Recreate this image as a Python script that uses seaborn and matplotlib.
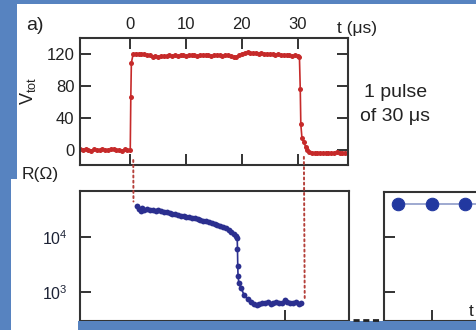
import matplotlib
matplotlib.use("Agg")
import matplotlib.pyplot as plt
import seaborn as sns
from matplotlib.patches import Rectangle, ConnectionPatch
from matplotlib.lines import Line2D

# ---------------- data ----------------
t_v = [-9.0, -8.5, -8.0, -7.5, -7.0, -6.5, -6.0, -5.5, -5.0, -4.5, -4.0, -3.5, -3.0, -2.5,
       -2.0, -1.5, -1.0, -0.5, 0.0,
       0.1, 0.2,
       0.5, 1.0, 1.5, 2.0, 2.5, 3.0, 3.5, 4.0, 4.5, 5.0, 5.5, 6.0, 6.5, 7.0, 7.5, 8.0, 8.5,
       9.0, 9.5, 10.0, 10.5, 11.0, 11.5, 12.0, 12.5, 13.0, 13.5, 14.0, 14.5, 15.0, 15.5, 16.0,
       16.5, 17.0, 17.5, 18.0, 18.5, 19.0, 19.5, 20.0, 20.5, 21.0, 21.5, 22.0, 22.5, 23.0,
       23.5, 24.0, 24.5, 25.0, 25.5, 26.0, 26.5, 27.0, 27.5, 28.0, 28.5, 29.0, 29.5, 30.0,
       30.3,
       30.45, 30.55, 30.75, 31.05, 31.4, 31.7, 32.0,
       32.5, 33.0, 33.5, 34.0, 34.5, 35.0, 35.5, 36.0, 36.5, 37.0, 37.5, 38.0, 38.5, 39.0, 39.5]
v_tot = [0.5, -0.5, 0.8, 0.0, -1.0, 0.6, 0.2, -0.4, 1.0, 0.0, -0.8, 0.4, 0.9, -0.3,
         0.2, -1.0, 0.5, 0.0, -0.5,
         66, 109,
         120, 121, 120.5, 121, 120, 119, 118.5, 117, 117.5, 116.5, 117.5, 118, 117.5, 118.5,
         118, 119, 118, 118.5, 119, 118, 118.5, 119, 118.5, 118, 119, 118.5, 118.5, 119, 118,
         118.5, 119, 118.5, 118, 118.5, 119, 118, 116.5, 116, 119, 121, 122, 122.5, 122,
         121.5, 122, 121, 121.5, 120.5, 121, 120, 120.5, 119.5, 120, 119, 119.5, 118.5, 119,
         118, 118.5, 117.5,
         117,
         76, 32, 15, 10, 4, 0, -2.5,
         -3.5, -4.5, -4, -3.5, -4.5, -4, -3.5, -4.5, -4, -3, -4, -4.5, -3.5, -4, -4.5]

t_r = [1.2, 1.5, 1.8, 2.0, 2.5, 3.0, 3.5, 4.0, 4.5, 5.0, 5.5, 6.0, 6.5, 7.0, 7.5, 8.0, 8.5,
       9.0, 9.5, 10.0, 10.5, 11.0, 11.5, 12.0, 12.5, 13.0, 13.5, 14.0, 14.5, 15.0, 15.5, 16.0,
       16.5, 17.0, 17.5, 18.0, 18.5, 18.8, 19.05, 19.1, 19.15, 19.2, 19.35, 19.7, 20.3, 20.9,
       21.5, 22.0, 22.5, 23.0, 23.5, 24.0, 24.5, 25.0, 25.5, 26.0, 26.5, 27.0, 27.5, 28.0,
       28.5, 29.0, 29.5, 30.0, 30.5]
r_ohm = [35500, 31600, 29500, 33100, 30900, 31600, 30200, 30900, 29500, 30200, 28800, 28200,
         28200, 26900, 26300, 25700, 25100, 24000, 23400, 22900, 22400, 21900, 21400, 20900,
         19950, 19500, 19050, 18200, 17800, 17000, 16600, 15850, 15100, 14100, 13200, 12300,
         11200, 10200, 9550, 6030, 2950, 1905, 1445, 1175, 870, 724, 646, 589, 562,
         603, 631, 617, 646, 603, 631, 661, 617, 631, 692, 646, 617, 631, 661, 603, 617]

x_right = [1, 2, 3, 4]
r_right = [40700, 40700, 40700, 40700]

t_ticks = [0, 10, 20, 30]
v_ticks = [0, 40, 80, 120]
r_ticks = [1e3, 1e4]
r_tick_labels = [r"$\mathregular{10^3}$", r"$\mathregular{10^4}$"]
t_bottom_ticks = [27.5]
right_x_ticks = [2]

link_t = [0.54, 31.1]
link_v = [-13, -9]
link_r = [43600, 708]

# ---------------- style ----------------
sns.set_theme(style="ticks")
plt.rcParams["font.family"] = ["Liberation Sans", "DejaVu Sans"]
plt.rcParams["mathtext.fontset"] = "custom"
plt.rcParams["mathtext.rm"] = "Liberation Sans"
plt.rcParams["mathtext.it"] = "Liberation Sans:italic"
plt.rcParams["mathtext.bf"] = "Liberation Sans:bold"

W, H = 476, 330
fig = plt.figure(figsize=(W / 100, H / 100), dpi=100)
fig.patch.set_facecolor("white")


def fr(l, t, r, b):
    return [l / W, 1 - b / H, (r - l) / W, (b - t) / H]


blue = "#5783c0"
for (l, t, r, b), z in [((0, 0, 476, 4), 0), ((0, 0, 17, 179), 0), ((0, 179, 11, 330), 0),
                        ((78, 321, 476, 330), 6)]:
    fig.add_artist(Rectangle((l / W, 1 - b / H), (r - l) / W, (b - t) / H,
                             transform=fig.transFigure, facecolor=blue, lw=0, zorder=z))

red = "#c62a2a"
navy = "#2b2f8f"
ink = "#222222"
spine_c = "#333333"

ax1 = fig.add_axes(fr(80, 38, 348, 165))
ax2 = fig.add_axes(fr(80, 191, 349, 321))
ax3 = fig.add_axes(fr(384, 192, 499, 321))
for ax in (ax1, ax2, ax3):
    ax.set_facecolor("none")
    for s in ax.spines.values():
        s.set_linewidth(1.5)
        s.set_color(spine_c)
        s.set_visible(True)

# top panel
sns.lineplot(x=t_v, y=v_tot, ax=ax1, color=red, marker="o", markersize=3.6,
             markeredgewidth=0, linewidth=1.2, estimator=None, sort=False)
ax1.set_xlim(-9, 39)
ax1.set_ylim(-19.2, 140.5)
ax1.set_xticks(t_ticks)
ax1.set_yticks(v_ticks)
ax1.tick_params(direction="in", length=8, width=1.4, top=True, right=True, bottom=True,
                left=True, labeltop=True, labelbottom=False, labelsize=12, pad=4,
                color=spine_c, labelcolor=ink)
ax1.set_xlabel("")
ax1.set_ylabel("")

# bottom panel
sns.lineplot(x=t_r, y=r_ohm, ax=ax2, color=navy, marker="o", markersize=4.2,
             markeredgewidth=0, linewidth=1.2, estimator=None, sort=False)
ax2.set_yscale("log")
ax2.set_xlim(-9, 39)
ax2.set_ylim(293, 67600)
ax2.set_yticks(r_ticks)
ax2.set_yticklabels(r_tick_labels)
ax2.minorticks_off()
ax2.set_xticks(t_bottom_ticks)
ax2.set_xticklabels([])
ax2.tick_params(direction="in", length=8, width=1.4, top=False, right=False, bottom=True,
                left=True, labelsize=11.5, pad=9, color=spine_c, labelcolor="#1c2235")
ax2.set_xlabel("")
ax2.set_ylabel("")

# right partial panel
sns.lineplot(x=x_right, y=r_right, ax=ax3, color="#8d9bc8", marker="o", markersize=9,
             markerfacecolor="#2238a0", markeredgecolor="#2238a0", linewidth=1.2,
             estimator=None, sort=False)
ax3.set_yscale("log")
ax3.set_xlim(0.58, 4.0)
ax3.set_ylim(293, 67600)
ax3.set_yticks(r_ticks)
ax3.set_yticklabels([])
ax3.minorticks_off()
ax3.set_xticks(right_x_ticks)
ax3.set_xticklabels([])
ax3.tick_params(direction="in", length=8, width=1.4, top=False, right=False, bottom=True,
                left=True, color=spine_c)
ax3.set_xlabel("")
ax3.set_ylabel("")

# dotted connectors
for tt, vv, rr in zip(link_t, link_v, link_r):
    cp = ConnectionPatch(xyA=(tt, vv), coordsA=ax1.transData, xyB=(tt, rr),
                         coordsB=ax2.transData, linestyle=":", color="#b5403a", lw=1.4,
                         zorder=5)
    fig.add_artist(cp)

# dashes between panels
fig.add_artist(Line2D([353 / W, 380 / W], [1 - 320 / H, 1 - 320 / H],
                      transform=fig.transFigure, color=ink, lw=2,
                      linestyle=(0, (2.2, 1.3)), zorder=7))

# texts
fig.text(35 / W, 1 - 25 / H, "a)", fontsize=14, ha="center", va="center", color=ink)
fig.text(357 / W, 1 - 28 / H, "t (\u03bcs)", fontsize=12.5, ha="center", va="center",
         color=ink)
fig.text(396 / W, 1 - 97 / H, "1 pulse", fontsize=14, ha="center", va="baseline", color=ink)
fig.text(395 / W, 1 - 120.5 / H, "of 30 \u03bcs", fontsize=14, ha="center", va="baseline",
         color=ink)
fig.text(28 / W, 1 - 91 / H, r"$\mathregular{V_{tot}}$", fontsize=13, rotation=90,
         ha="center", va="center", color=ink)
fig.text(40 / W, 1 - 175 / H, "R(\u03a9)", fontsize=12.5, ha="center", va="center",
         color=ink)
fig.text(471 / W, 1 - 312 / H, "t", fontsize=12.5, ha="center", va="center", color=ink)

fig.savefig("out.png", dpi=100)
